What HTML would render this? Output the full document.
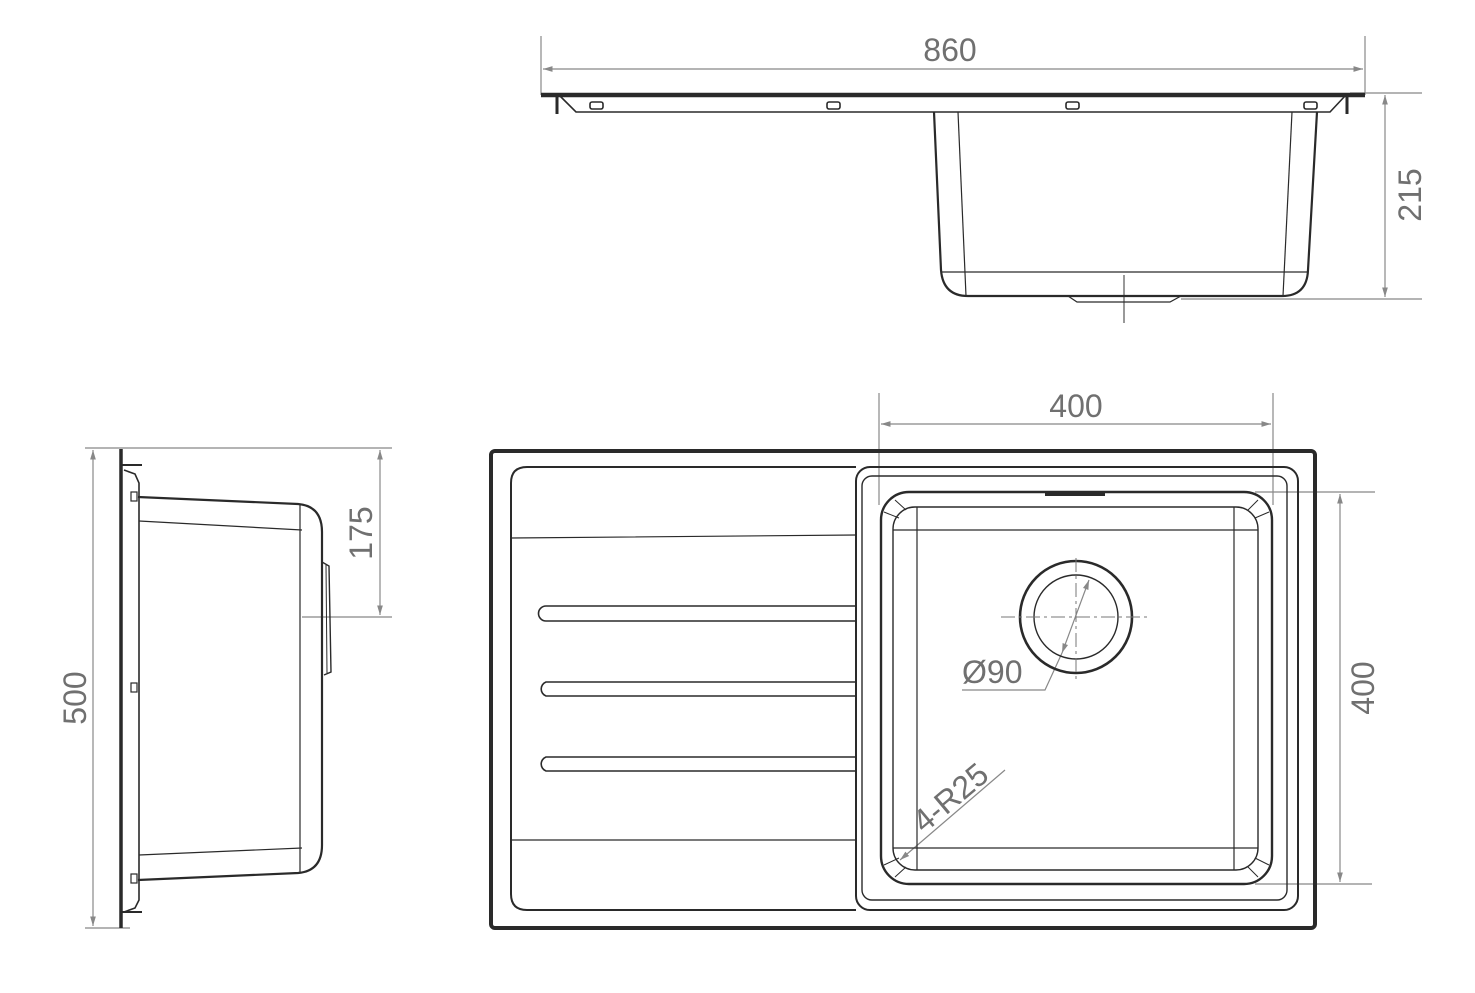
<!DOCTYPE html>
<html><head><meta charset="utf-8"><style>
html,body{margin:0;padding:0;background:#fff;}
svg{display:block;}
text{font-family:"Liberation Sans",sans-serif;fill:#707070;font-size:32px;}
</style></head><body>
<svg width="1475" height="993" viewBox="0 0 1475 993" xmlns="http://www.w3.org/2000/svg">
<defs>
<marker id="a" viewBox="0 0 10 10" refX="10" refY="5" markerWidth="8" markerHeight="8" orient="auto-start-reverse"><path d="M0,2 L10,5 L0,8 z" fill="#888"/></marker>
</defs>
<g fill="none" stroke="#888" stroke-width="1.2">
<line x1="541" y1="36" x2="541" y2="95"/><line x1="1365" y1="36" x2="1365" y2="95"/>
<line x1="543" y1="69" x2="1363" y2="69" marker-start="url(#a)" marker-end="url(#a)"/>
<line x1="1350" y1="93" x2="1422" y2="93"/><line x1="1181" y1="299" x2="1422" y2="299"/>
<line x1="1385" y1="95" x2="1385" y2="297" marker-start="url(#a)" marker-end="url(#a)"/>
<line x1="1124" y1="275" x2="1124" y2="323" stroke="#555"/>
<line x1="85" y1="448" x2="392" y2="448"/><line x1="85" y1="928" x2="130" y2="928"/>
<line x1="93" y1="450" x2="93" y2="926" marker-start="url(#a)" marker-end="url(#a)"/>
<line x1="302" y1="617" x2="392" y2="617"/>
<line x1="380" y1="450" x2="380" y2="615" marker-start="url(#a)" marker-end="url(#a)"/>
<line x1="879" y1="393" x2="879" y2="505"/><line x1="1273" y1="393" x2="1273" y2="505"/>
<line x1="881" y1="424" x2="1271" y2="424" marker-start="url(#a)" marker-end="url(#a)"/>
<line x1="1255" y1="492" x2="1375" y2="492"/><line x1="1255" y1="884" x2="1372" y2="884"/>
<line x1="1340" y1="494" x2="1340" y2="882" marker-start="url(#a)" marker-end="url(#a)"/>
<line x1="1062" y1="653" x2="1089" y2="580" marker-start="url(#a)" marker-end="url(#a)"/>
<polyline points="1062,653 1045,690 962,690"/>
<line x1="900" y1="860" x2="1005" y2="770" marker-start="url(#a)"/>
</g>
<text x="950" y="61" text-anchor="middle">860</text>
<text x="1076" y="417" text-anchor="middle">400</text>
<text transform="translate(1421,195) rotate(-90)" text-anchor="middle">215</text>
<text transform="translate(86,698) rotate(-90)" text-anchor="middle">500</text>
<text transform="translate(372,533) rotate(-90)" text-anchor="middle">175</text>
<text transform="translate(1374,688) rotate(-90)" text-anchor="middle">400</text>
<text x="962" y="683">Ø90</text>
<text transform="translate(924,834) rotate(-40)">4-R25</text>

<g fill="none" stroke="#2a2a2a" stroke-width="1.6">
<line x1="541" y1="95" x2="1365" y2="95" stroke-width="4.5"/>
<line x1="557" y1="95" x2="557" y2="114" stroke-width="3"/>
<line x1="1347" y1="95" x2="1347" y2="114" stroke-width="3"/>
<polyline points="560,96 576,112 1330,112 1345,96"/>
<rect x="590" y="102" width="13" height="7" rx="2"/>
<rect x="827" y="102" width="13" height="7" rx="2"/>
<rect x="1066" y="102" width="13" height="7" rx="2"/>
<rect x="1304" y="102" width="13" height="7" rx="2"/>
<path d="M934,112 L941,270 Q943,296 968,296 L1282,296 Q1307,296 1308,270 L1317,112" stroke-width="2.2"/>
<line x1="958" y1="112" x2="966" y2="296" stroke-width="1.2"/>
<line x1="1292" y1="112" x2="1283" y2="296" stroke-width="1.2"/>
<line x1="941" y1="272" x2="1308" y2="272" stroke-width="1.2"/>
<path d="M1068,296 L1077,302 L1170,302 L1181,296" stroke-width="1.2"/>
</g>

<g fill="none" stroke="#2a2a2a" stroke-width="1.6">
<line x1="121" y1="449" x2="121" y2="928" stroke-width="3.5"/>
<line x1="122" y1="465" x2="142" y2="465" stroke-width="2"/>
<line x1="122" y1="912" x2="142" y2="912" stroke-width="2"/>
<path d="M124,470 L135,474 L139,483 L139,900 L135,908 L124,912"/>
<path d="M138,497 L298,504 Q322,506 322,532 L322,845 Q322,871 298,873 L138,880" stroke-width="2.2"/>
<line x1="139" y1="521" x2="302" y2="530" stroke-width="1.2"/>
<line x1="139" y1="855" x2="302" y2="848" stroke-width="1.2"/>
<line x1="300" y1="504" x2="300" y2="872" stroke-width="1.2"/>
<path d="M322,562 L329,566 L331,672 L324,675" stroke-width="1.4"/>
<line x1="326" y1="565" x2="327" y2="673" stroke-width="1"/>
<rect x="131" y="492" width="6" height="9" stroke-width="1.2"/>
<rect x="131" y="683" width="6" height="9" stroke-width="1.2"/>
<rect x="131" y="874" width="6" height="9" stroke-width="1.2"/>
</g>

<g fill="none" stroke="#2a2a2a" stroke-width="1.6">
<rect x="491" y="451" width="824" height="477" rx="4" stroke-width="4"/>
<path d="M856,467 L527,467 Q511,467 511,483 L511,894 Q511,910 527,910 L856,910" stroke-width="2"/>
<rect x="856" y="467" width="442" height="443" rx="14" stroke-width="2"/>
<rect x="862" y="476" width="425" height="424" rx="10" stroke-width="1.4"/>
<path d="M511,538 L856,535 M511,840 L856,840" stroke-width="1.2"/>
<path d="M856,606 L546,606 A7.5,7.5 0 0 0 546,621 L856,621"/>
<path d="M856,682 L546,682 A7.5,7.5 0 0 0 546,696 L856,696"/>
<path d="M856,757 L546,757 A7.5,7.5 0 0 0 546,771 L856,771"/>
<rect x="881" y="492" width="391" height="392" rx="28" stroke-width="2.4"/>
<rect x="893" y="507" width="365" height="363" rx="22" stroke-width="1.4"/>
<line x1="893" y1="530" x2="1258" y2="530" stroke-width="1.2"/>
<line x1="893" y1="848" x2="1258" y2="848" stroke-width="1.2"/>
<line x1="917" y1="507" x2="917" y2="870" stroke-width="1.2"/>
<line x1="1234" y1="507" x2="1234" y2="870" stroke-width="1.2"/>
<path d="M884,512 L899,518 M895,500 L906,510 M1269,512 L1255,518 M1258,500 L1248,510 M884,865 L899,858 M895,877 L906,867 M1269,865 L1255,858 M1258,877 L1248,867" stroke-width="1"/>
<line x1="1045" y1="494" x2="1105" y2="494" stroke-width="4"/>
<circle cx="1076" cy="617" r="56" stroke-width="2.6"/>
<circle cx="1076" cy="617" r="42" stroke-width="1.4"/>
<line x1="1001" y1="617" x2="1151" y2="617" stroke="#777" stroke-width="1" stroke-dasharray="14,4,3,4"/>
<line x1="1076" y1="558" x2="1076" y2="680" stroke="#777" stroke-width="1" stroke-dasharray="14,4,3,4"/>
</g>
</svg>
</body></html>
